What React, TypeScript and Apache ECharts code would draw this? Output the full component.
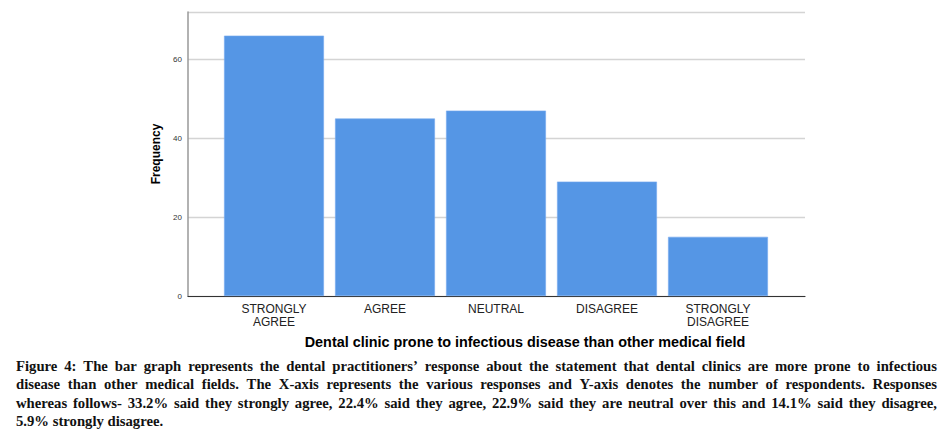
import React, { useEffect, useRef } from "react";
import * as echarts from "echarts";

const categories = ["STRONGLY\nAGREE", "AGREE", "NEUTRAL", "DISAGREE", "STRONGLY\nDISAGREE"];
const frequencies = [66, 45, 47, 29, 15];
const yTicks = [0, 20, 40, 60];
const captionLines = [
  "Figure 4: The bar graph represents the dental practitioners\u2019 response about the statement that dental clinics are more prone to infectious",
  "disease than other medical fields. The X-axis represents the various responses and Y-axis denotes the number of respondents. Responses",
  "whereas follows- 33.2% said they strongly agree, 22.4% said they agree, 22.9% said they are neutral over this and 14.1% said they disagree,",
  "5.9% strongly disagree.",
];
const xTitle = "Dental clinic prone to infectious disease than other medical field";
const yTitle = "Frequency";

const CAP_FONT_SIZE = 14.7;
const CAP_FAMILY = "Liberation Serif";
const CAP_LEFT = 16;
const CAP_RIGHT = 937;

function captionGraphics() {
  const canvas = document.createElement("canvas");
  const ctx = canvas.getContext("2d")!;
  ctx.font = `bold ${CAP_FONT_SIZE}px "${CAP_FAMILY}"`;
  const out: any[] = [];
  captionLines.forEach((line, i) => {
    const top = 358 + i * 18.6;
    const justify = i < captionLines.length - 1;
    const words = line.split(" ");
    const widths = words.map((w) => ctx.measureText(w).width);
    const total = widths.reduce((a, b) => a + b, 0);
    const gap = justify
      ? (CAP_RIGHT - CAP_LEFT - total) / (words.length - 1)
      : ctx.measureText(" ").width;
    let x = CAP_LEFT;
    words.forEach((w, j) => {
      out.push({
        type: "text",
        left: x,
        top,
        style: {
          text: w,
          fill: "#111",
          fontSize: CAP_FONT_SIZE,
          fontWeight: "bold",
          fontFamily: CAP_FAMILY,
        },
      });
      x += widths[j] + gap;
    });
  });
  return out;
}

export default function App() {
  const ref = useRef<HTMLDivElement>(null);
  useEffect(() => {
    const chart = echarts.init(ref.current!, null, { renderer: "svg" });
    const top = 12;
    const bottom = 140;
    chart.setOption({
      animation: false,
      grid: [
        { left: 188, right: 145, top, bottom },
        { left: 218.5, right: 176.5, top, bottom },
      ],
      xAxis: [
        {
          gridIndex: 0,
          type: "value",
          min: 0,
          max: 1,
          axisLine: { show: true, lineStyle: { color: "#333", width: 1.2 } },
          axisTick: { show: false },
          axisLabel: { show: false },
          splitLine: { show: false },
        },
        {
          gridIndex: 1,
          type: "category",
          data: categories,
          axisLine: { show: false },
          axisTick: { show: false },
          axisLabel: {
            color: "#222",
            fontSize: 12,
            lineHeight: 13,
            fontFamily: "Liberation Sans, Arial, sans-serif",
            margin: 6,
          },
        },
      ],
      yAxis: [
        {
          gridIndex: 0,
          type: "value",
          min: 0,
          max: 72,
          interval: 20,
          axisLine: { show: true, lineStyle: { color: "#999", width: 1.5 } },
          axisTick: { show: false },
          axisLabel: {
            color: "#333",
            fontSize: 8,
            margin: 6,
            fontFamily: "Liberation Sans, Arial, sans-serif",
            formatter: (v: number) => (yTicks.includes(v) ? String(v) : ""),
          },
          splitLine: { show: true, lineStyle: { color: "#d4d4d4", width: 1.3 } },
          name: yTitle,
          nameLocation: "middle",
          nameGap: 25,
          nameTextStyle: {
            color: "#000",
            fontSize: 12,
            fontWeight: "bold",
            fontFamily: "Liberation Sans, Arial, sans-serif",
          },
        },
        {
          gridIndex: 1,
          type: "value",
          min: 0,
          max: 72,
          show: false,
          splitLine: { show: false },
        },
      ],
      series: [
        {
          type: "bar",
          xAxisIndex: 1,
          yAxisIndex: 1,
          data: frequencies,
          barCategoryGap: "10%",
          itemStyle: { color: "#5596E5", borderColor: "#76aaee", borderWidth: 0.6 },
        },
      ],
      graphic: [
        {
          type: "text",
          x: 525,
          y: 342,
          style: {
            text: xTitle,
            fill: "#000",
            fontSize: 14.4,
            fontWeight: "bold",
            fontFamily: "Liberation Sans, Arial, sans-serif",
            align: "center",
            verticalAlign: "middle",
          },
        },
        ...captionGraphics(),
      ],
    });
    return () => chart.dispose();
  }, []);
  return (
    <div
      ref={ref}
      style={{ position: "fixed", left: 0, top: 0, width: 950, height: 436, background: "#fff" }}
    />
  );
}
